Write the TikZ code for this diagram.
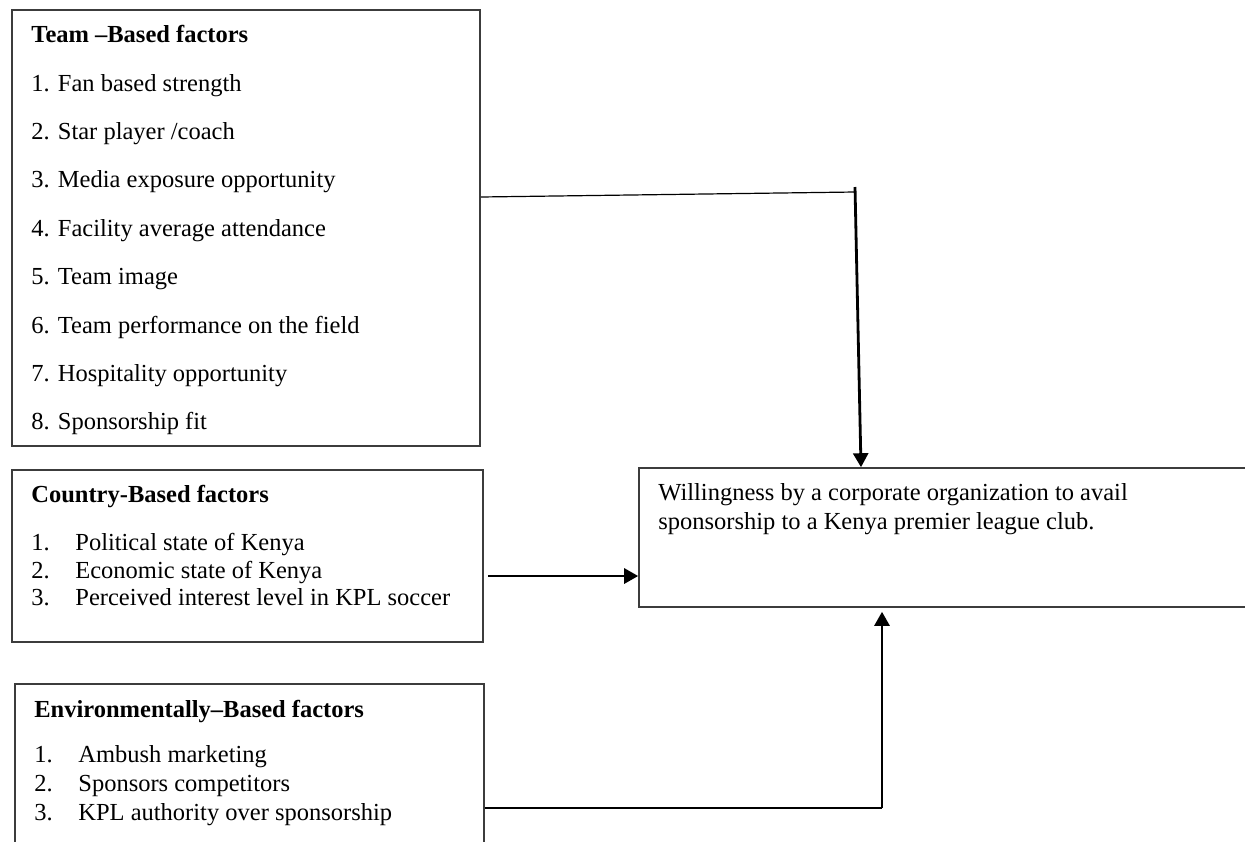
\documentclass[tikz,border=0pt]{standalone}
\usepackage{fontspec}
\setmainfont{Liberation Serif}
\usepackage{tikz}
\usetikzlibrary{positioning,arrows.meta,calc}
\definecolor{ink}{HTML}{000000}
\definecolor{edge}{HTML}{3C3C3C}
\newcommand{\itm}[1]{\makebox[22pt][l]{#1}}

\begin{document}
\begin{tikzpicture}[x=0.5pt,y=-0.5pt,
  every node/.style={font=\fontsize{12.25}{14.5}\selectfont,text=ink},
  box/.style={draw=edge,line width=0.8pt,inner sep=0pt},
  txt/.style={anchor=north west,align=left,inner sep=0pt},
  ln/.style={line width=0.6pt,ink},
  ar/.style={-{Triangle[length=7pt,width=7.5pt]},line width=1.4pt,ink}]
  \useasboundingbox (0,0) rectangle (1245,841);
  % boxes
  \node[box,minimum width=234pt,minimum height=218pt] (team) at (246,228) {};
  \node[box,minimum width=235.5pt,minimum height=86pt] (ctry) at (247.5,556) {};
  \node[box,minimum width=234.5pt,minimum height=90pt] (env) at (249.5,774) {};
  \node[box,minimum width=313pt,minimum height=69.5pt] (willing) at (952,537.5) {};
  % texts
  \node[txt,font=\fontsize{12.25}{24.2}\selectfont] (teamtxt) at (31,25)
    {\textbf{Team –Based factors}\\1. Fan based strength\\2. Star player /coach\\
     3. Media exposure opportunity\\4. Facility average attendance\\5. Team image\\
     6. Team performance on the field\\7. Hospitality opportunity\\8. Sponsorship fit};
  \node[txt,font=\fontsize{12.25}{13.75}\selectfont] (ctrytxt) at (31,485)
    {\textbf{Country-Based factors}\\[10.25pt]\itm{1.}Political state of Kenya\\
     \itm{2.}Economic state of Kenya\\\itm{3.}Perceived interest level in KPL soccer};
  \node[txt] (envtxt) at (34,700)
    {\textbf{Environmentally–Based factors}\\[8pt]\itm{1.}Ambush marketing\\
     \itm{2.}Sponsors competitors\\\itm{3.}KPL authority over sponsorship};
  \node[txt] (willtxt) at (658,483)
    {Willingness by a corporate organization to avail\\sponsorship to a Kenya premier league club.};
  % connectors
  \coordinate (tmid) at (855,192);
  \coordinate (cmid) at (488,576);
  \coordinate (emid) at (882,808);
  \draw[ln] ([yshift=15.5pt]team.east) -- (tmid);
  \draw[ar] ([yshift=2.5pt]tmid) -- ([xshift=-45.5pt]willing.north);
  \draw[ar] (cmid) -- (cmid -| willing.west);
  \draw[ln] (env.east |- emid) -- (emid);
  \draw[ar] (emid) -- ($(emid |- willing.south)+(0,4)$);
\end{tikzpicture}
\end{document}
